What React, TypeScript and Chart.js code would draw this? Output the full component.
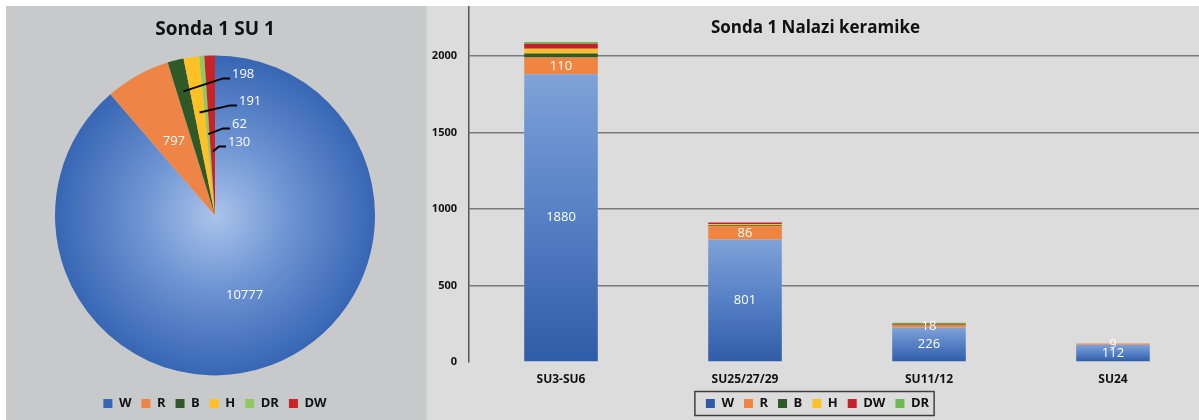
import React, { useEffect, useRef } from "react";
import { Chart, registerables } from "chart.js";

Chart.register(...registerables);

const FONT = "'Open Sans', 'Noto Sans', 'DejaVu Sans', sans-serif";
Chart.defaults.font.family = FONT;

// ---------- Pie data ----------
const pieTitle = "Sonda 1 SU 1";
const pieCategories = ["W", "R", "B", "H", "DR", "DW"];
const pieValues = [10777, 797, 198, 191, 62, 130];

// ---------- Bar data ----------
const barTitle = "Sonda 1 Nalazi keramike";
const barCategories = ["SU3-SU6", "SU25/27/29", "SU11/12", "SU24"];
const barSeries = ["W", "R", "B", "H", "DW", "DR"];
const barW = [1880, 801, 226, 112];
const barR = [110, 86, 18, 9];
const barB = [26, 7, 8, 0];
const barH = [30, 7, 2, 0];
const barDW = [34, 10, 1, 0];
const barDR = [10, 1, 1, 0];
const yTicks = [0, 500, 1000, 1500, 2000];
const yMax = 2326;

// ---------- Styles ----------
const pieColors = ["#4a77c2", "#EE8446", "#2F5A28", "#FFC125", "#8DCB62", "#C8222A"];
const barColors = ["#4a77c2", "#EF8540", "#2E5A27", "#FFC12A", "#C2202B", "#6CBB50"];
// label placement for small pie slices (anchor radius fraction, label offset from centre)
const pieLeaders: Record<number, { frac: number; dx: number; dy: number }> = {
  2: { frac: 0.8, dx: 17, dy: -141 },
  3: { frac: 0.65, dx: 24, dy: -114 },
  4: { frac: 0.51, dx: 17, dy: -91 },
  5: { frac: 0.4, dx: 13, dy: -73 },
};

const pieLabelsPlugin = {
  id: "pieLabels",
  afterDatasetsDraw(chart: any) {
    const meta = chart.getDatasetMeta(0);
    const ctx = chart.ctx;
    ctx.save();
    ctx.font = `13px ${FONT}`;
    ctx.fillStyle = "#ffffff";
    ctx.textBaseline = "middle";
    meta.data.forEach((el: any, i: number) => {
      const { x, y, startAngle, endAngle, outerRadius } = el.getProps(
        ["x", "y", "startAngle", "endAngle", "outerRadius"],
        true
      );
      const mid = (startAngle + endAngle) / 2;
      const text = String(chart.data.datasets[0].data[i]);
      const lead = pieLeaders[i];
      if (!lead) {
        const r = outerRadius * 0.53;
        ctx.textAlign = "center";
        ctx.fillText(text, x + Math.cos(mid) * r, y + Math.sin(mid) * r);
      } else {
        const ax = x + Math.cos(mid) * outerRadius * lead.frac;
        const ay = y + Math.sin(mid) * outerRadius * lead.frac;
        const lx = x + lead.dx;
        const ly = y + lead.dy;
        ctx.strokeStyle = "#000000";
        ctx.lineWidth = 2;
        ctx.beginPath();
        ctx.moveTo(ax, ay);
        ctx.lineTo(lx - 9, ly + 4);
        ctx.lineTo(lx - 2, ly + 4);
        ctx.stroke();
        ctx.textAlign = "left";
        ctx.fillText(text, lx, ly);
      }
    });
    ctx.restore();
  },
};

const barLabelsPlugin = {
  id: "barLabels",
  afterDatasetsDraw(chart: any) {
    const ctx = chart.ctx;
    ctx.save();
    ctx.font = `13px ${FONT}`;
    ctx.fillStyle = "#ffffff";
    ctx.textAlign = "center";
    ctx.textBaseline = "middle";
    [0, 1].forEach((di) => {
      const meta = chart.getDatasetMeta(di);
      meta.data.forEach((bar: any, i: number) => {
        const v = chart.data.datasets[di].data[i];
        if (!v) return;
        const { x, y, base } = bar.getProps(["x", "y", "base"], true);
        ctx.fillText(String(v), x, (y + base) / 2);
      });
    });
    ctx.restore();
  },
  afterDraw(chart: any) {
    const ctx = chart.ctx;
    ctx.save();
    // overlay title
    ctx.font = `bold 17px ${FONT}`;
    ctx.fillStyle = "#111111";
    ctx.textAlign = "center";
    ctx.textBaseline = "middle";
    ctx.fillText(barTitle, chart.width / 2, 22);
    // legend frame
    const boxes = chart.legend?.legendHitBoxes || [];
    if (boxes.length) {
      const left = Math.min(...boxes.map((b: any) => b.left)) - 11;
      const right = Math.max(...boxes.map((b: any) => b.left + b.width)) + 5;
      const cy = boxes[0].top + boxes[0].height / 2;
      ctx.strokeStyle = "#404040";
      ctx.lineWidth = 1.5;
      ctx.strokeRect(left, cy - 12, right - left, 24);
    }
    ctx.restore();
  },
};

function pieBg(c: any) {
  const i = c.dataIndex ?? 0;
  if (i !== 0) return pieColors[i];
  const area = c.chart.chartArea;
  if (!area) return pieColors[0];
  const cx = (area.left + area.right) / 2;
  const cy = (area.top + area.bottom) / 2;
  const r = Math.min(area.right - area.left, area.bottom - area.top) / 2;
  const g = c.chart.ctx.createRadialGradient(cx, cy, 0, cx, cy, r);
  g.addColorStop(0, "#aac4ea");
  g.addColorStop(0.45, "#6f95d3");
  g.addColorStop(1, "#3766b4");
  return g;
}

function barWBg(c: any) {
  if (c.type !== "data") return barColors[0];
  const chart = c.chart;
  const ys = chart.scales?.y;
  if (!ys || !chart.chartArea) return barColors[0];
  const top = ys.getPixelForValue(c.raw as number);
  const bottom = ys.getPixelForValue(0);
  if (!isFinite(top) || !isFinite(bottom) || top === bottom) return barColors[0];
  const g = chart.ctx.createLinearGradient(0, top, 0, bottom);
  g.addColorStop(0, "#7fa2d8");
  g.addColorStop(0.5, "#5580c5");
  g.addColorStop(1, "#2f5ca6");
  return g;
}

export default function App() {
  const pieRef = useRef<HTMLCanvasElement>(null);
  const barRef = useRef<HTMLCanvasElement>(null);

  useEffect(() => {
    const pie = new Chart(pieRef.current as HTMLCanvasElement, {
      type: "pie",
      data: {
        labels: pieCategories,
        datasets: [{ data: pieValues, backgroundColor: pieBg as any, borderWidth: 0 }],
      },
      options: {
        responsive: false,
        animation: false,
        devicePixelRatio: 1,
        layout: { padding: { left: 49, right: 51, top: 0, bottom: 0 } },
        plugins: {
          title: {
            display: true,
            text: pieTitle,
            color: "#111111",
            font: { family: FONT, size: 19, weight: "bold" },
            padding: { top: 12, bottom: 3 },
          },
          legend: {
            position: "bottom",
            labels: {
              boxWidth: 9,
              boxHeight: 9,
              padding: 10,
              color: "#111111",
              font: { family: FONT, size: 13, weight: "bold" },
            },
          },
          tooltip: { enabled: false },
        },
      },
      plugins: [pieLabelsPlugin],
    } as any);

    const seriesData = [barW, barR, barB, barH, barDW, barDR];
    const bar = new Chart(barRef.current as HTMLCanvasElement, {
      type: "bar",
      data: {
        labels: barCategories,
        datasets: barSeries.map((name, k) => ({
          label: name,
          data: seriesData[k],
          backgroundColor: k === 0 ? (barWBg as any) : barColors[k],
          borderWidth: 0,
          categoryPercentage: 1,
          barPercentage: 0.4,
        })),
      },
      options: {
        responsive: false,
        animation: false,
        devicePixelRatio: 1,
        layout: { padding: { left: 4, right: 0, top: 0, bottom: 0 } },
        scales: {
          x: {
            stacked: true,
            grid: { display: false, drawTicks: false },
            border: { display: false },
            ticks: {
              padding: 10,
              color: "#111111",
              font: { family: FONT, size: 12, weight: "bold" },
            },
            afterFit: (s: any) => {
              s.height = 25;
              s.paddingLeft = 0;
              s.paddingRight = 0;
            },
          },
          y: {
            stacked: true,
            min: 0,
            max: yMax,
            grid: {
              drawTicks: false,
              lineWidth: 1.5,
              color: (c: any) => (c.tick && c.tick.value === 0 ? "rgba(0,0,0,0)" : "#7a7a7a"),
            },
            border: { display: true, color: "#555555", width: 1.5 },
            ticks: {
              padding: 12,
              color: "#111111",
              font: { family: FONT, size: 11, weight: "bold" },
              callback: (v: any) => String(v),
            },
            afterBuildTicks: (axis: any) => {
              axis.ticks = yTicks.map((v) => ({ value: v }));
            },
            afterFit: (s: any) => {
              s.width = 39;
              s.paddingTop = 0;
              s.paddingBottom = 0;
            },
          },
        },
        plugins: {
          legend: {
            position: "bottom",
            labels: {
              boxWidth: 9,
              boxHeight: 9,
              padding: 10,
              color: "#111111",
              font: { family: FONT, size: 13, weight: "bold" },
            },
          },
          tooltip: { enabled: false },
        },
      },
      plugins: [barLabelsPlugin],
    } as any);

    return () => {
      pie.destroy();
      bar.destroy();
    };
  }, []);

  return (
    <div
      style={{
        position: "absolute",
        left: 0,
        top: 0,
        width: 1199,
        height: 420,
        overflow: "hidden",
        background: "#ffffff",
      }}
    >
      <div
        style={{
          position: "absolute",
          left: 6,
          top: 6,
          width: 420,
          height: 414,
          background: "#c8c9ca",
        }}
      >
        <canvas ref={pieRef} width={420} height={414} style={{ display: "block" }} />
      </div>
      <div
        style={{
          position: "absolute",
          left: 426,
          top: 6,
          width: 773,
          height: 414,
          background: "#dcdcdc",
          overflow: "hidden",
          borderLeft: "2px solid #d4d5d5",
          boxSizing: "border-box",
        }}
      >
        <canvas
          ref={barRef}
          width={779}
          height={414}
          style={{ display: "block", marginLeft: -2 }}
        />
      </div>
    </div>
  );
}
